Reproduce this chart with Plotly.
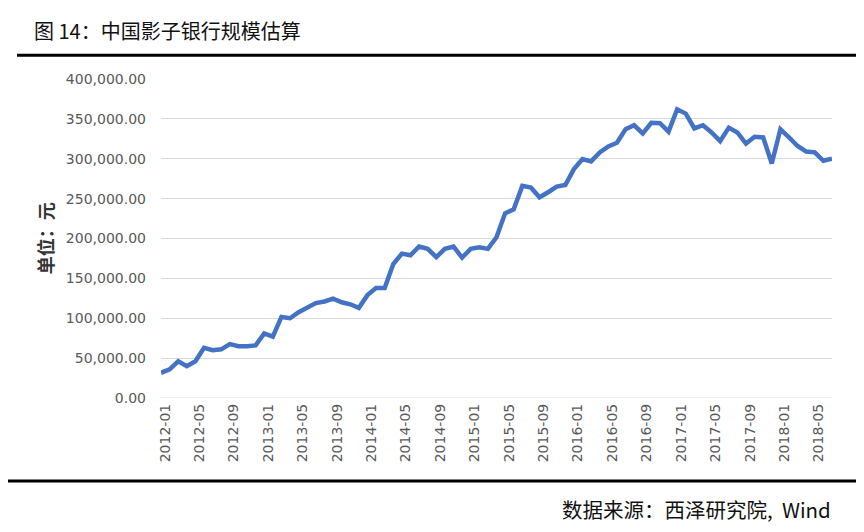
import plotly.graph_objects as go

months = [f"{y}-{m:02d}" for y in range(2012, 2019) for m in range(1, 13)][:79]
values = [
    31600, 36000, 46000, 40000, 46000, 63000, 60000, 61000, 67500, 65000, 65000, 66000,
    81000, 77000, 101600, 100000, 107500, 114000, 119000, 121000, 124600, 120000, 117500, 113000,
    129000, 138000, 138000, 168000, 181000, 179000, 190000, 187000, 176700, 187000, 190000, 176000,
    187000, 189000, 187000, 201600, 231600, 236600, 266000, 264000, 251700, 258000, 265000, 267000,
    287000, 299600, 296700, 308000, 315500, 320000, 337000, 342000, 331700, 345000, 344600, 334000,
    362000, 356600, 338000, 342000, 333000, 322000, 339000, 333000, 319000, 327500, 326700, 294000,
    337000, 326700, 316000, 309000, 308000, 297500, 300000,
]
tick_labels = months[::4]
y_ticks = [0, 50000, 100000, 150000, 200000, 250000, 300000, 350000, 400000]

title_text = "图 14：中国影子银行规模估算"
source_text = "数据来源：西泽研究院,  Wind"
y_title = "单位：元"

W, H = 864, 532
OFF = 8  # page body margin offset
SL, SR, ST, SB = 161, 832, 78.7, 398
L = SL - OFF
T = ST - OFF
R = W - (SR - OFF)
B = H - (SB - OFF)
pw, ph = W - L - R, H - T - B

def px(x):
    return (x - OFF - L) / pw

def py(y):
    return (H - B - (y - OFF)) / ph

fig = go.Figure()
fig.add_trace(go.Scatter(
    x=months, y=values, mode="lines",
    line=dict(color="#4472C4", width=4.5),
    hoverinfo="x+y",
))

tick_font = dict(size=14, color="#595959", family="DejaVu Sans, Liberation Sans, Arial")

fig.update_layout(
    width=W, height=H,
    margin=dict(l=L, r=R, t=T, b=B, autoexpand=False),
    paper_bgcolor="white", plot_bgcolor="white",
    showlegend=False,
    font=dict(family="Noto Sans CJK SC, sans-serif", color="#595959"),
    xaxis=dict(
        type="category",
        tickmode="array", tickvals=tick_labels, ticktext=tick_labels,
        tickangle=-90, tickfont=tick_font,
        showgrid=False, showline=False, ticks="", zeroline=False,
        ticklabelstandoff=2, ticklabelshift=4,
    ),
    yaxis=dict(
        range=[0, 400000], tickvals=y_ticks, tickformat=",.2f",
        tickfont=tick_font,
        showgrid=True, gridcolor="#d9d9d9", gridwidth=1,
        zeroline=False, showline=False, ticks="", ticklen=0,
        ticklabelstandoff=14,
    ),
    shapes=[
        dict(type="line", xref="paper", yref="paper", x0=px(17), x1=px(880), y0=py(55), y1=py(55),
             line=dict(color="black", width=3)),
        dict(type="line", xref="paper", yref="paper", x0=px(-10), x1=px(880), y0=py(481), y1=py(481),
             line=dict(color="black", width=3)),
        dict(type="line", xref="paper", yref="y", x0=0, x1=1, y0=0, y1=0,
             line=dict(color="#d9d9d9", width=1)),
    ],
    annotations=[
        dict(text=title_text, xref="paper", yref="paper", x=px(32), y=py(30), xanchor="left", yanchor="middle",
             showarrow=False, font=dict(size=20, color="#111111", family="Noto Sans CJK SC")),
        dict(text=source_text, xref="paper", yref="paper", x=px(833), y=py(509), xanchor="right", yanchor="middle",
             showarrow=False, font=dict(size=20.5, color="#111111", family="Noto Sans CJK SC")),
        dict(text="<b>" + y_title + "</b>", xref="paper", yref="paper", x=px(45), y=py(238),
             xanchor="center", yanchor="middle", textangle=-90, showarrow=False,
             font=dict(size=18, color="#333333", family="Noto Sans CJK SC")),
    ],
)

fig.write_html("out.html")
